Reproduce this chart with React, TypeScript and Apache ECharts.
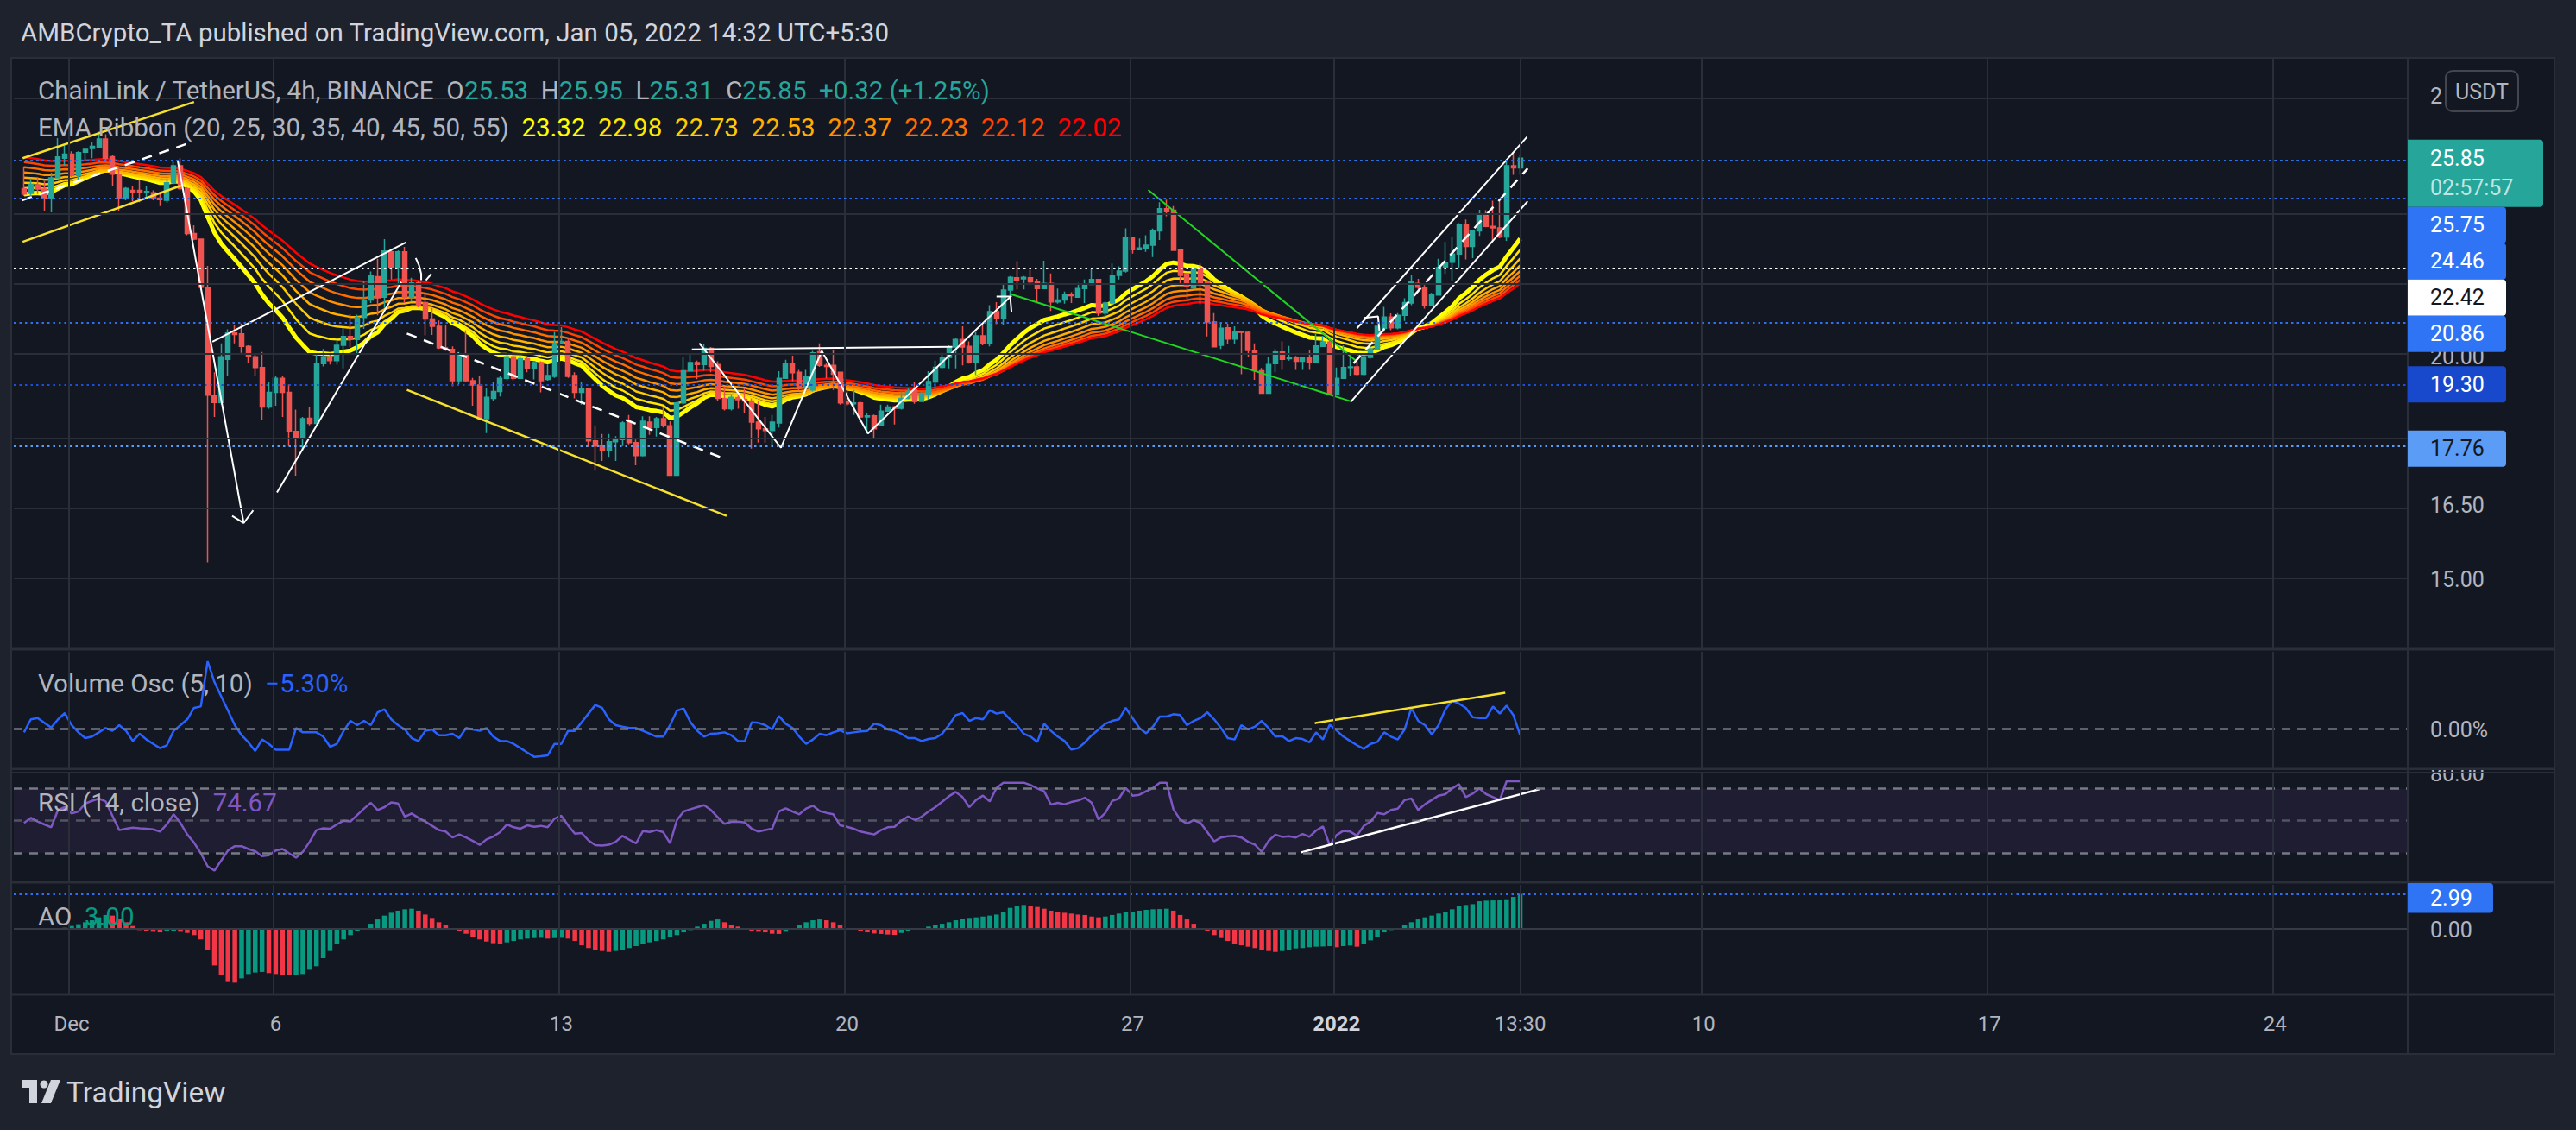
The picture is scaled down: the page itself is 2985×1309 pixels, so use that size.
import React, { useEffect, useRef } from 'react';
import * as echarts from 'echarts';

// ---------------- DATA ----------------
const OPEN = [
  24.85,24.70,24.97,24.84,24.53,25.20,25.85,25.99,25.28,26.05,26.18,26.20,26.50,25.90,25.32,24.53,24.80,24.80,24.72,24.72,24.55,24.48,25.04,25.60,24.85,23.45,23.28,21.88,19.03,18.85,
  19.93,20.62,20.60,20.27,20.00,19.72,18.74,19.10,19.45,19.10,18.16,17.99,18.47,18.35,19.82,19.97,19.90,20.30,20.53,20.45,21.04,21.52,22.18,21.60,22.90,22.44,22.90,21.60,22.00,21.45,
  21.00,20.80,20.23,20.19,19.39,20.06,19.39,19.28,18.46,18.95,19.12,19.45,20.00,19.45,19.95,19.69,19.85,19.42,19.50,20.35,20.40,19.52,19.10,19.20,17.94,17.82,17.72,17.92,17.97,18.38,
  17.90,17.60,18.38,18.25,18.46,18.29,17.16,18.84,19.64,19.85,19.80,20.22,19.80,18.95,18.70,18.97,18.93,18.89,18.38,18.22,18.18,18.36,19.45,19.82,19.60,19.25,19.16,20.13,19.78,19.78,
  19.60,18.88,18.82,18.84,18.50,18.53,18.30,18.64,18.74,18.71,18.95,19.16,18.88,19.05,19.36,19.73,19.98,20.25,20.45,20.27,19.85,20.55,20.34,21.20,21.03,21.80,22.15,22.12,22.15,22.03,
  21.84,21.99,21.47,21.52,21.68,21.60,21.84,21.96,22.10,21.16,21.44,22.22,22.34,23.32,22.97,23.02,23.10,23.53,24.22,24.17,22.97,22.26,21.86,22.42,22.03,20.92,20.30,20.76,20.46,20.66,
  20.64,20.16,19.64,19.08,19.82,20.12,19.95,19.98,19.88,19.97,19.85,20.27,20.38,19.04,19.45,19.72,19.74,19.55,19.98,20.20,20.75,21.05,20.76,21.10,21.44,21.99,21.88,21.38,21.66,22.44,
  22.60,22.84,23.72,23.06,23.53,24.04,23.67,23.62,23.35,25.60,25.53
];
const HIGH = [
  25.58,25.18,25.22,25.10,25.37,26.53,26.27,26.08,26.08,26.20,26.40,26.75,26.66,25.95,25.56,24.90,24.95,25.12,24.95,24.80,24.75,25.18,25.75,25.85,24.90,23.70,23.30,22.49,19.60,20.35,
  20.72,20.84,20.88,20.30,20.07,20.12,19.35,19.50,19.50,19.30,18.68,18.50,18.75,20.05,20.20,20.10,20.42,20.75,21.13,21.12,22.05,22.33,22.70,23.28,22.95,22.95,23.05,22.15,22.06,21.68,
  21.30,20.96,20.85,20.27,20.12,20.70,19.46,19.50,19.20,19.35,19.52,20.05,20.15,20.10,20.00,19.88,19.88,19.80,20.65,20.78,20.50,19.60,19.35,19.20,18.30,18.10,18.10,18.05,18.40,18.55,
  17.97,18.52,18.52,18.50,18.74,18.40,18.90,19.98,20.08,19.90,20.32,20.25,19.88,19.25,19.05,19.10,19.20,18.95,18.88,18.50,18.55,19.63,19.92,20.03,19.66,19.66,20.15,20.35,19.85,20.18,
  19.62,19.16,19.16,18.90,18.60,18.56,18.80,18.80,18.77,19.12,19.20,19.37,19.12,19.63,19.90,20.10,20.30,20.50,20.80,20.40,20.65,20.85,21.38,21.46,21.98,22.20,22.63,22.20,22.38,22.12,
  22.64,22.27,21.84,21.76,21.74,22.00,22.10,22.40,22.12,21.48,22.56,22.48,23.61,23.34,23.30,23.40,23.60,24.42,24.50,24.30,23.00,22.30,22.45,22.56,22.05,21.16,20.90,20.87,20.80,20.67,
  20.67,20.35,19.71,19.98,20.20,20.40,20.28,20.02,20.00,20.18,20.60,20.55,20.45,19.72,20.30,19.98,19.88,20.06,20.35,20.82,21.33,21.15,21.16,21.57,22.24,22.12,21.94,21.72,22.70,23.20,
  23.35,23.77,23.88,23.56,24.18,24.17,24.47,24.47,25.77,26.05,25.95
];
const LOW = [
  24.62,24.62,24.68,24.15,24.10,25.18,25.60,25.23,25.10,25.75,25.85,26.20,25.75,24.95,24.15,24.48,24.45,24.42,24.55,24.48,24.30,24.41,24.99,24.80,23.40,23.25,21.85,15.33,18.50,18.80,
  19.50,20.35,20.10,19.83,19.50,18.43,18.70,18.77,18.50,17.82,17.15,17.70,18.30,18.33,19.75,19.80,19.80,19.70,20.25,20.08,20.73,21.44,21.10,21.30,22.10,21.88,21.44,21.48,21.32,20.56,
  20.57,20.20,20.15,19.25,19.30,19.35,18.77,18.46,18.12,18.90,19.00,19.40,19.40,19.45,19.60,19.42,19.10,19.39,19.46,20.32,19.46,18.95,18.80,17.80,17.26,17.48,17.57,17.48,17.82,17.86,
  17.38,17.58,18.08,18.04,18.25,17.16,17.16,18.80,19.62,19.43,19.64,19.60,18.90,18.66,18.66,18.70,18.60,17.76,17.90,17.90,17.82,18.25,19.45,19.38,19.15,19.15,19.12,19.74,19.45,19.16,
  18.80,18.77,18.55,18.38,18.11,18.00,18.30,18.62,18.32,18.68,18.93,18.82,18.86,18.92,19.16,19.70,19.70,19.70,19.78,19.82,19.53,20.30,20.27,20.86,20.85,21.64,21.82,21.82,21.94,21.44,
  21.84,21.22,21.42,21.42,21.44,21.60,21.44,21.94,21.08,21.07,21.36,22.10,22.30,22.85,22.96,22.90,22.75,23.26,23.98,22.93,21.96,21.55,21.84,21.40,20.53,20.24,20.20,20.32,20.34,19.55,
  19.98,19.41,19.06,19.06,19.60,19.66,19.90,19.66,19.66,19.66,19.84,20.27,19.03,19.03,19.45,19.50,19.50,19.52,19.95,20.18,20.65,20.70,20.72,20.95,21.38,21.82,21.28,21.34,21.64,22.26,
  22.07,22.42,22.68,22.72,23.38,23.64,23.22,23.31,23.23,25.30,25.31
];
const CLOSE = [
  24.68,24.99,24.84,24.53,25.20,25.89,25.99,25.28,26.04,26.15,26.25,26.50,25.85,25.32,24.53,24.86,24.75,24.72,24.76,24.53,24.50,25.04,25.60,24.85,23.45,23.28,21.88,19.03,18.85,20.00,
  20.62,20.58,20.27,20.00,19.72,18.74,19.10,19.45,19.10,18.16,17.99,18.46,18.35,19.82,20.00,19.90,20.30,20.53,20.45,21.04,21.52,22.20,21.58,22.93,22.44,22.90,21.60,22.00,21.36,21.00,
  20.80,20.23,20.18,19.39,20.08,19.39,19.28,18.46,18.98,19.12,19.45,20.00,19.45,19.95,19.69,19.85,19.39,19.52,20.35,20.40,19.50,19.10,19.20,17.94,17.82,17.72,17.92,17.97,18.36,17.90,
  17.60,18.40,18.25,18.46,18.29,17.16,18.84,19.64,19.85,19.80,20.22,19.75,18.95,18.70,18.98,18.92,18.89,18.38,18.22,18.18,18.38,19.45,19.82,19.59,19.23,19.50,20.10,19.78,19.75,19.55,
  18.84,18.82,18.84,18.50,18.53,18.22,18.64,18.74,18.71,18.95,19.12,18.88,19.06,19.37,19.73,19.98,20.25,20.45,20.25,19.85,20.55,20.34,21.20,21.03,21.80,22.16,22.08,22.16,22.03,21.84,
  21.99,21.47,21.52,21.68,21.64,21.84,21.96,22.10,21.16,21.44,22.22,22.34,23.32,22.97,23.02,23.10,23.54,24.22,24.12,22.95,22.22,21.90,22.42,21.96,20.92,20.26,20.75,20.46,20.66,20.64,
  20.16,19.64,19.08,19.80,20.12,19.93,19.98,19.88,19.97,19.85,20.28,20.39,19.04,19.45,19.72,19.74,19.55,20.00,20.20,20.80,21.05,20.76,21.10,21.45,22.03,21.88,21.38,21.66,22.44,22.60,
  22.84,23.72,23.06,23.53,24.04,23.67,23.62,23.35,25.60,25.53,25.85
];
const VOL_OSC = [
  -3.0,7.4,8.5,4.6,0.9,7.4,12.4,2.8,-3.0,-7.6,-6.4,-3.0,0.5,-1.8,2.8,-1.8,-9.9,-4.1,-8.7,-12.2,-15.6,-13.3,-1.8,2.8,7.4,16.6,17.7,53.8,37.2,25.7,
  14.3,2.8,-5.3,-11.0,-17.9,-8.7,-12.2,-16.8,-16.8,-16.8,0.5,-3.0,-3.0,-3.0,-6.4,-14.5,-12.2,-1.8,6.2,2.8,6.2,2.8,13.1,15.4,7.4,2.8,-0.7,-7.6,-9.9,-1.8,
  -0.7,-5.3,-5.3,-4.1,-7.6,0.5,-0.7,-1.8,0.5,-6.4,-9.9,-9.9,-12.2,-15.6,-19.1,-22.5,-22.1,-21.4,-12.2,-12.2,-1.8,-1.8,5.1,12.0,18.9,16.6,7.4,2.8,1.6,0.5,
  0.5,-1.8,-4.1,-6.4,-6.4,2.8,14.3,16.1,5.1,-1.8,-6.4,-4.1,-3.7,-3.0,-5.3,-9.9,-9.9,5.1,4.6,2.8,-0.7,10.1,3.9,0.5,-6.4,-12.2,-8.7,-4.1,-5.3,-3.0,
  -1.4,-3.7,-3.0,-2.3,-1.8,3.9,2.8,-0.7,-1.8,-4.1,-7.6,-7.6,-9.9,-8.3,-7.6,-4.1,2.8,10.8,12.4,6.2,8.5,7.4,14.7,12.0,13.1,7.4,2.8,-4.1,-6.4,-10.6,
  3.9,-1.8,-6.4,-9.9,-16.8,-15.6,-11.0,-5.3,-0.7,3.9,6.2,7.4,16.6,8.5,0.5,-3.7,1.6,9.7,9.7,11.5,10.8,2.8,6.2,8.5,13.1,7.4,0.5,-7.6,-8.7,2.8,
  -0.7,1.6,6.2,0.5,-6.4,-6.0,-9.9,-7.6,-8.3,-11.0,-3.0,-8.7,3.2,-1.4,-6.4,-9.9,-13.3,-16.1,-12.2,-10.6,-3.0,-6.4,-8.7,-0.7,16.6,6.2,2.8,-4.6,2.8,15.4,
  22.3,20.0,16.6,9.2,8.5,8.5,17.7,12.0,18.4,10.8,-5.3
];
const RSI = [
  48.6,51.8,49.5,47.7,45.9,56.7,58.5,54.5,55.8,60.8,62.4,63.9,62.1,53.1,44.1,45.0,45.7,45.3,45.0,44.6,43.2,47.7,54.0,48.6,41.4,36.3,29.6,21.5,18.8,25.1,
  31.4,34.1,34.1,32.3,30.9,27.8,28.4,31.4,32.3,29.6,26.9,30.5,36.8,44.1,45.3,45.0,47.7,50.0,49.6,53.6,57.6,61.2,56.7,58.5,61.5,60.8,52.5,54.5,51.8,49.5,
  46.8,44.2,43.2,39.5,41.4,39.5,37.4,34.9,38.3,40.1,42.8,47.7,45.9,45.0,47.1,46.2,46.8,45.9,51.3,53.1,47.1,41.9,42.3,37.7,34.7,34.5,35.0,36.8,40.5,38.1,
  35.9,43.5,43.0,44.1,42.8,35.9,50.4,55.8,57.2,58.5,59.7,56.7,52.2,48.0,49.3,49.5,48.9,45.0,43.2,44.2,45.0,55.8,57.7,55.8,54.0,57.6,59.4,56.1,54.9,54.0,
  47.1,46.2,45.0,43.2,42.3,41.4,44.1,45.9,46.2,50.0,52.7,50.4,52.5,55.8,58.5,61.9,65.3,68.0,64.8,58.5,63.0,65.7,62.1,70.5,73.8,73.8,73.8,73.8,72.3,70.2,
  68.4,60.1,61.2,60.3,61.7,62.6,64.4,61.2,50.7,54.9,62.4,63.9,70.5,65.7,66.2,68.4,70.5,73.8,73.8,57.2,50.7,48.2,50.4,48.6,42.8,37.0,39.5,40.3,40.5,39.5,
  36.8,35.0,30.5,37.4,41.2,39.9,40.3,39.5,41.7,39.9,43.9,46.4,34.5,41.0,43.7,43.2,40.6,46.8,49.5,54.9,54.0,56.7,57.6,63.0,63.9,56.7,60.3,63.0,65.7,66.6,
  70.2,72.9,64.8,66.9,70.2,66.6,64.8,63.0,74.7,74.7,74.67
];
const AO = [
  0.07,0.07,0.07,0.05,-0.05,0.00,0.10,0.25,0.40,0.57,0.74,0.99,1.19,1.14,0.89,0.57,0.25,-0.10,-0.17,-0.25,-0.30,-0.20,-0.15,-0.25,-0.35,-0.54,-0.91,-1.78,-3.14,-4.00,
  -4.49,-4.62,-4.25,-3.88,-3.75,-3.70,-3.80,-3.88,-3.95,-4.00,-3.95,-3.88,-3.51,-3.21,-2.52,-1.90,-1.28,-0.91,-0.54,-0.17,0.07,0.44,0.81,1.14,1.38,1.56,1.68,1.73,1.56,1.23,
  0.94,0.57,0.32,0.07,-0.17,-0.42,-0.67,-0.91,-1.09,-1.23,-1.28,-1.16,-1.04,-0.91,-0.84,-0.79,-0.77,-0.84,-0.79,-0.77,-0.84,-1.04,-1.41,-1.65,-1.78,-1.90,-1.98,-1.90,-1.78,-1.65,
  -1.48,-1.28,-1.16,-1.04,-0.91,-0.74,-0.54,-0.30,-0.10,0.20,0.44,0.69,0.81,0.57,0.32,0.20,-0.05,-0.17,-0.25,-0.30,-0.42,-0.44,-0.25,0.07,0.32,0.57,0.74,0.81,0.74,0.57,
  0.32,0.07,-0.05,-0.17,-0.30,-0.40,-0.44,-0.49,-0.52,-0.35,-0.17,-0.05,0.07,0.20,0.32,0.44,0.57,0.74,0.89,0.94,0.99,1.06,1.14,1.23,1.43,1.80,1.98,2.05,1.98,1.88,
  1.73,1.56,1.48,1.38,1.31,1.23,1.19,1.06,0.99,1.06,1.19,1.31,1.43,1.48,1.56,1.63,1.68,1.70,1.73,1.56,1.19,0.81,0.44,0.07,-0.17,-0.54,-0.79,-1.04,-1.28,-1.41,
  -1.53,-1.65,-1.78,-1.90,-1.98,-1.90,-1.78,-1.68,-1.65,-1.58,-1.53,-1.51,-1.48,-1.58,-1.48,-1.43,-1.53,-1.28,-0.99,-0.67,-0.30,-0.10,0.00,0.32,0.57,0.81,0.99,1.14,1.31,1.43,
  1.68,1.93,2.05,2.12,2.37,2.42,2.44,2.47,2.54,2.74,2.99
];

const EMA_LENGTHS = [20, 25, 30, 35, 40, 45, 50, 55];
const EMA_AT_FIRST_BAR = [24.67, 24.87, 25.04, 25.21, 25.38, 25.55, 25.72, 25.89];
const EMA_LEGEND = ['23.32', '22.98', '22.73', '22.53', '22.37', '22.23', '22.12', '22.02'];
const EMA_COLORS = ['#ffff00', '#ffe600', '#ffcc00', '#ffb000', '#ff9100', '#ff6d00', '#ff4400', '#ff0000'];

const HEADER = 'AMBCrypto_TA published on TradingView.com, Jan 05, 2022 14:32 UTC+5:30';
const SYMBOL = 'ChainLink / TetherUS, 4h, BINANCE';
const EMA_TITLE = 'EMA Ribbon (20, 25, 30, 35, 40, 45, 50, 55)';
const VOL_TITLE = 'Volume Osc (5, 10)';
const RSI_TITLE = 'RSI (14, close)';
const AO_TITLE = 'AO';
const AO_LEGEND = '3.00';
const COUNTDOWN = '02:57:57';
const TOP_AXIS_LABEL = '2'; // the only part of the top price label not hidden by the currency button

const PRICE_GRID = [15, 16.5, 18, 20, 22, 24, 28];
const PRICE_AXIS_LABELS = [15, 16.5, 20];
const PRICE_RANGE = [13.705, 29.43];
const VOL_RANGE = [-32.4, 61.4];
const RSI_RANGE = [11.5, 80.1];
const AO_RANGE = [-5.63, 3.78];
const RSI_LEVELS = [70, 50, 30];

const PRICE_LINES = [
  { price: 25.85, sub: COUNTDOWN, bg: '#26a69a', fg: '#ffffff', line: '#26a69a' },
  { price: 25.75, bg: '#2f74f5', fg: '#ffffff', line: '#2f6ff0' },
  { price: 24.46, bg: '#2f74f5', fg: '#ffffff', line: '#2f6ff0' },
  { price: 22.42, bg: '#ffffff', fg: '#131722', line: '#ffffff' },
  { price: 20.86, bg: '#2f74f5', fg: '#ffffff', line: '#2f6ff0' },
  { price: 19.30, bg: '#1848cc', fg: '#ffffff', line: '#1f4fd6' },
  { price: 17.76, bg: '#5b9cf6', fg: '#131722', line: '#5b9cf6' },
];
const AO_LINE = 2.99;

const TIME_TICKS = [
  { t: '2021-12-01T00:00', label: 'Dec' },
  { t: '2021-12-06T00:00', label: '6' },
  { t: '2021-12-13T00:00', label: '13' },
  { t: '2021-12-20T00:00', label: '20' },
  { t: '2021-12-27T00:00', label: '27' },
  { t: '2022-01-01T00:00', label: '2022', bold: true },
  { t: '2022-01-05T13:30', label: '13:30' },
  { t: '2022-01-10T00:00', label: '10' },
  { t: '2022-01-17T00:00', label: '17' },
  { t: '2022-01-24T00:00', label: '24' },
];
const LAST_BAR_TIME = '2022-01-05T13:30';

// drawings: [bar index, value]
const DRAWINGS = [
  { pts: [[-0.2, 25.85], [25.0, 27.8]], color: '#f5e12e', w: 2.5 },
  { pts: [[-0.2, 23.2], [23.1, 24.95]], color: '#f5e12e', w: 2.5 },
  { pts: [[-0.3, 24.48], [24.4, 26.37]], color: '#ffffff', w: 2.5, dash: true },
  { pts: [[22.6, 25.77], [32.3, 16.13]], color: '#ffffff', w: 2 },
  { pts: [[30.6, 16.28], [32.3, 16.13], [33.7, 16.40]], color: '#ffffff', w: 2 },
  { pts: [[27.7, 20.39], [56.2, 23.19]], color: '#ffffff', w: 2 },
  { pts: [[37.2, 16.78], [55.5, 22.03]], color: '#ffffff', w: 2 },
  { pts: [[57.6, 22.72], [58.1, 22.50], [58.4, 22.26], [58.4, 22.08]], color: '#ffffff', w: 2 },
  { pts: [[59.1, 22.08], [59.9, 22.26]], color: '#ffffff', w: 2 },
  { pts: [[56.3, 20.61], [103.3, 17.51]], color: '#ffffff', w: 2.5, dash: true },
  { pts: [[56.3, 19.16], [103.3, 16.28]], color: '#f5e12e', w: 2.5 },
  { pts: [[98.2, 20.19], [136.5, 20.26]], color: '#ffffff', w: 2 },
  { pts: [[99.3, 20.35], [111.3, 17.78], [117.3, 20.15], [124.1, 18.11], [145.2, 21.64]], color: '#ffffff', w: 2 },
  { pts: [[143.0, 21.62], [145.0, 21.62], [145.2, 21.2]], color: '#ffffff', w: 2 },
  { pts: [[165.3, 24.81], [195.9, 19.89]], color: '#22d422', w: 2 },
  { pts: [[145.2, 21.68], [195.1, 18.88]], color: '#22d422', w: 2 },
  { pts: [[195.1, 18.87], [221.1, 24.45]], color: '#ffffff', w: 2 },
  { pts: [[196.0, 20.75], [221.0, 26.57]], color: '#ffffff', w: 2 },
  { pts: [[195.5, 19.83], [221.1, 25.51]], color: '#ffffff', w: 2.5, dash: true },
  { pts: [[197.0, 21.03], [199.1, 21.07], [199.3, 20.68]], color: '#ffffff', w: 2 },
];
const VOL_DRAWING = [[189.8, 4.4], [217.8, 28.7]];
const RSI_DRAWING = [[187.8, 30.2], [222.9, 69.8]];

// ---------------- LAYOUT ----------------
const FONT = 'Roboto';
const LEGEND_SIZE = 29.5;
const SLOTS = 352;
const GRID_LEFT = 16;
const GRID_W = 2774;
const PANES = [
  { top: 67, height: 685 },
  { top: 755, height: 136 },
  { top: 895, height: 127 },
  { top: 1025, height: 127 },
];
const UP = '#26a69a';
const DOWN = '#ef5350';
const AO_UP = '#089981';
const AO_DOWN = '#f23645';
const GRID_COLOR = '#2a2e39';

const ln = Math.log;

function computeEma(len: number, seed: number) {
  const a = 2 / (len + 1);
  const out = [seed];
  for (let i = 1; i < CLOSE.length; i++) out.push(a * CLOSE[i] + (1 - a) * out[i - 1]);
  return out;
}

function buildOption() {
  const N = CLOSE.length;
  const cats = Array.from({ length: SLOTS }, (_, k) => String(k));
  const lastMs = Date.parse(LAST_BAR_TIME + ':00Z');
  const tickSlots = TIME_TICKS.map((t) => N - (lastMs - Date.parse(t.t + ':00Z')) / (4 * 3600e3));
  const labelMap = new Map<number, any>();
  TIME_TICKS.forEach((t, k) => labelMap.set(Math.round(tickSlots[k]), t));

  const vgrid = tickSlots.map((s) => ({ xAxis: s, lineStyle: { color: GRID_COLOR, width: 2, type: 'solid' } }));

  const xAxis: any[] = [];
  const yAxis: any[] = [];
  PANES.forEach((_, g) => {
    xAxis.push({
      type: 'category', gridIndex: g, data: cats, boundaryGap: true,
      axisLine: { show: false }, axisTick: { show: false }, splitLine: { show: false },
      axisLabel: g === 3 ? {
        show: true,
        interval: (idx: number) => labelMap.has(idx),
        formatter: (_v: string, idx: number) => {
          const t = labelMap.get(idx);
          if (!t) return '';
          return t.bold ? '{b|' + t.label + '}' : t.label;
        },
        color: '#b2b5be', fontSize: 24, fontFamily: FONT, margin: 22,
        rich: { b: { fontWeight: 'bold', fontSize: 24, color: '#d1d4dc', fontFamily: FONT } },
      } : { show: false },
    });
    xAxis.push({ type: 'value', gridIndex: g, min: -0.5, max: SLOTS - 0.5, show: false });
  });
  yAxis.push({ type: 'value', gridIndex: 0, min: ln(PRICE_RANGE[0]), max: ln(PRICE_RANGE[1]), show: false });
  yAxis.push({ type: 'value', gridIndex: 1, min: VOL_RANGE[0], max: VOL_RANGE[1], show: false });
  yAxis.push({ type: 'value', gridIndex: 2, min: RSI_RANGE[0], max: RSI_RANGE[1], show: false });
  yAxis.push({ type: 'value', gridIndex: 3, min: AO_RANGE[0], max: AO_RANGE[1], show: false });

  const series: any[] = [];
  const ml = (data: any[]) => ({ silent: true, symbol: ['none', 'none'], label: { show: false }, data });

  series.push({
    type: 'line', xAxisIndex: 1, yAxisIndex: 0, data: [], z: 1, silent: true,
    markLine: ml([
      ...PRICE_GRID.map((p) => ({ yAxis: ln(p), lineStyle: { color: GRID_COLOR, width: 2, type: 'solid' } })),
      ...vgrid,
      ...PRICE_LINES.map((l) => ({ yAxis: ln(l.price), lineStyle: { color: l.line, width: 2, type: [2.5, 4] } })),
    ]),
  });

  EMA_LENGTHS.forEach((len, k) => {
    const vals = computeEma(len, EMA_AT_FIRST_BAR[k]);
    series.push({
      type: 'line', xAxisIndex: 0, yAxisIndex: 0, showSymbol: false, silent: true, z: 2,
      data: vals.map((v, i) => [i + 1, ln(v)]),
      lineStyle: { color: EMA_COLORS[k], width: k === 0 ? 5 : 2.5 },
    });
  });

  series.push({
    type: 'candlestick', xAxisIndex: 0, yAxisIndex: 0, z: 3, silent: true, barWidth: 5.5,
    encode: { x: 0, y: [1, 2, 3, 4] },
    data: OPEN.map((o, i) => [i + 1, ln(o), ln(CLOSE[i]), ln(LOW[i]), ln(HIGH[i])]),
    itemStyle: { color: UP, color0: DOWN, borderColor: UP, borderColor0: DOWN, borderWidth: 1.5 },
  });

  DRAWINGS.forEach((d) => {
    series.push({
      type: 'line', xAxisIndex: 1, yAxisIndex: 0, showSymbol: false, silent: true, z: 4,
      data: d.pts.map(([x, p]) => [x + 1, ln(p)]),
      lineStyle: { color: d.color, width: d.w, type: d.dash ? [12, 9] : 'solid' },
    });
  });

  series.push({
    type: 'line', xAxisIndex: 3, yAxisIndex: 1, data: [], z: 1, silent: true,
    markLine: ml([{ yAxis: 0, lineStyle: { color: '#787b86', width: 2.5, type: [10, 8] } }, ...vgrid]),
  });
  series.push({
    type: 'line', xAxisIndex: 2, yAxisIndex: 1, showSymbol: false, silent: true, z: 3,
    data: VOL_OSC.map((v, i) => [i + 1, v]), lineStyle: { color: '#2962ff', width: 2.5 },
  });
  series.push({
    type: 'line', xAxisIndex: 3, yAxisIndex: 1, showSymbol: false, silent: true, z: 4,
    data: VOL_DRAWING.map(([x, v]) => [x + 1, v]), lineStyle: { color: '#f5e12e', width: 2.5 },
  });

  series.push({
    type: 'line', xAxisIndex: 5, yAxisIndex: 2, data: [], z: 1, silent: true,
    markArea: { silent: true, itemStyle: { color: 'rgba(126,87,194,0.10)' }, data: [[{ yAxis: RSI_LEVELS[0] }, { yAxis: RSI_LEVELS[2] }]] },
    markLine: ml([
      ...RSI_LEVELS.map((v, k) => ({ yAxis: v, lineStyle: { color: k === 1 ? 'rgba(120,123,134,0.6)' : '#787b86', width: 2.5, type: [10, 8] } })),
      ...vgrid,
    ]),
  });
  series.push({
    type: 'line', xAxisIndex: 4, yAxisIndex: 2, showSymbol: false, silent: true, z: 3,
    data: RSI.map((v, i) => [i + 1, v]), lineStyle: { color: '#7e57c2', width: 2.5 },
  });
  series.push({
    type: 'line', xAxisIndex: 5, yAxisIndex: 2, showSymbol: false, silent: true, z: 4,
    data: RSI_DRAWING.map(([x, v]) => [x + 1, v]), lineStyle: { color: '#ffffff', width: 2.5 },
  });

  series.push({
    type: 'line', xAxisIndex: 7, yAxisIndex: 3, data: [], z: 1, silent: true,
    markLine: ml([
      { yAxis: 0, lineStyle: { color: '#363a45', width: 2, type: 'solid' } },
      { yAxis: AO_LINE, lineStyle: { color: '#2f6ff0', width: 2, type: [2.5, 4] } },
      ...vgrid,
    ]),
  });
  series.push({
    type: 'bar', xAxisIndex: 6, yAxisIndex: 3, barWidth: 5.5, silent: true, z: 3,
    data: AO.map((v, i) => ({ value: [i + 1, v], itemStyle: { color: i === 0 || v >= AO[i - 1] ? AO_UP : AO_DOWN } })),
  });

  // ---------- graphic overlay ----------
  const g: any[] = [];
  const txt = (x: number, y: number, text: string, fill: string, size: number, extra: any = {}, z = 100) => ({
    type: 'text', x, y, z, silent: true,
    style: { text, fill, fontSize: size, fontFamily: FONT, verticalAlign: 'middle', ...extra },
  });
  g.push(txt(24, 38, HEADER, '#d1d4dc', 29.5));

  const last = N - 1;
  const chg = CLOSE[last] - CLOSE[last - 1];
  const pct = (chg / CLOSE[last - 1]) * 100;
  const sgn = (v: number) => (v >= 0 ? '+' : '\u2212') + Math.abs(v).toFixed(2);
  const legendRich = {
    a: { fill: '#b2b5be', fontSize: LEGEND_SIZE, fontFamily: FONT },
    v: { fill: UP, fontSize: LEGEND_SIZE, fontFamily: FONT },
  };
  g.push({
    type: 'text', x: 44, y: 105, z: 100, silent: true,
    style: {
      verticalAlign: 'middle', rich: legendRich,
      text: '{a|' + SYMBOL + '  O}{v|' + OPEN[last].toFixed(2) + '}{a|  H}{v|' + HIGH[last].toFixed(2) +
        '}{a|  L}{v|' + LOW[last].toFixed(2) + '}{a|  C}{v|' + CLOSE[last].toFixed(2) + '}{a|  }{v|' +
        sgn(chg) + ' (' + sgn(pct) + '%)}',
    },
  });
  const emaRich: any = { a: { fill: '#b2b5be', fontSize: LEGEND_SIZE, fontFamily: FONT } };
  EMA_COLORS.forEach((c, k) => { emaRich['e' + k] = { fill: c, fontSize: LEGEND_SIZE, fontFamily: FONT }; });
  g.push({
    type: 'text', x: 44, y: 148, z: 100, silent: true,
    style: {
      verticalAlign: 'middle', rich: emaRich,
      text: '{a|' + EMA_TITLE + '}' + EMA_LEGEND.map((v, k) => '{a|  }{e' + k + '|' + v + '}').join(''),
    },
  });
  const paneLegend = (y: number, title: string, value: string, color: string) => ({
    type: 'text', x: 44, y, z: 100, silent: true,
    style: {
      verticalAlign: 'middle',
      rich: { a: { fill: '#b2b5be', fontSize: LEGEND_SIZE, fontFamily: FONT }, v: { fill: color, fontSize: LEGEND_SIZE, fontFamily: FONT } },
      text: '{a|' + title + '  }{v|' + value + '}',
    },
  });
  const volLast = VOL_OSC[VOL_OSC.length - 1];
  g.push(paneLegend(792, VOL_TITLE, (volLast < 0 ? '\u2212' : '') + Math.abs(volLast).toFixed(2) + '%', '#2962ff'));
  g.push(paneLegend(930, RSI_TITLE, RSI[RSI.length - 1].toFixed(2), '#7e57c2'));
  g.push(paneLegend(1062, AO_TITLE, AO_LEGEND, AO_UP));

  // price axis labels
  const pTop = PANES[0].top, pH = PANES[0].height;
  const yOfPrice = (p: number) => pTop + (ln(PRICE_RANGE[1]) - ln(p)) / (ln(PRICE_RANGE[1]) - ln(PRICE_RANGE[0])) * pH;
  PRICE_AXIS_LABELS.forEach((p) => g.push(txt(2816, yOfPrice(p), p.toFixed(2), '#b2b5be', 25, {}, 55)));
  g.push(txt(2816, yOfPrice(28), TOP_AXIS_LABEL, '#b2b5be', 25, {}, 55));
  g.push(txt(2816, 845, '0.00%', '#b2b5be', 25, {}, 55));
  g.push(txt(2816, 896, '80.00', '#b2b5be', 25, {}, 55));
  g.push(txt(2816, 1077, '0.00', '#b2b5be', 25, {}, 55));
  g.push({ type: 'rect', z: 56, silent: true, shape: { x: 2791, y: 866, width: 168, height: 25 }, style: { fill: '#131722' } });

  // price tags (stacked like the platform does)
  let prevBottom = -Infinity;
  PRICE_LINES.forEach((l) => {
    const h = l.sub ? 78 : 42;
    const anchor = l.sub ? 21.5 : 21;
    const top = Math.max(yOfPrice(l.price) - anchor, prevBottom);
    prevBottom = top + h;
    const w = l.sub ? 157 : 114;
    g.push({ type: 'rect', z: 60, silent: true, shape: { x: 2790, y: top, width: w, height: h, r: [0, 4, 4, 0] }, style: { fill: l.bg } });
    g.push(txt(2816, top + anchor, l.price.toFixed(2), l.fg, 25, {}, 61));
    if (l.sub) g.push(txt(2816, top + 56, l.sub, 'rgba(255,255,255,0.72)', 25, {}, 61));
  });
  g.push({ type: 'rect', z: 60, silent: true, shape: { x: 2790, y: 1023, width: 99, height: 34.5, r: [0, 4, 4, 0] }, style: { fill: '#2f74f5' } });
  g.push(txt(2816, 1040, AO_LINE.toFixed(2), '#ffffff', 25, {}, 61));

  // USDT button
  g.push({ type: 'rect', z: 70, silent: true, shape: { x: 2834, y: 82, width: 84, height: 47, r: 8 }, style: { fill: '#131722', stroke: '#434651', lineWidth: 2 } });
  g.push(txt(2876, 106, 'USDT', '#b2b5be', 25, { align: 'center' }, 71));

  // pane separators and borders
  const sep = (y: number, h: number) => ({ type: 'rect', z: 57, silent: true, shape: { x: 13, y, width: 2947, height: h }, style: { fill: GRID_COLOR } });
  g.push(sep(750.5, 3), sep(889.5, 2.5), sep(894, 1.5), sep(1020.5, 3), sep(1150.5, 3));
  g.push({ type: 'rect', z: 57, silent: true, shape: { x: 2789, y: 67, width: 2, height: 1154 }, style: { fill: GRID_COLOR } });
  g.push({ type: 'rect', z: 57, silent: true, shape: { x: 13, y: 67, width: 2947, height: 1154 }, style: { fill: 'none', stroke: GRID_COLOR, lineWidth: 2 } });

  // TradingView logo
  const logo = '#d1d4dc';
  g.push({ type: 'rect', z: 100, silent: true, shape: { x: 25, y: 1251, width: 18, height: 9 }, style: { fill: logo } });
  g.push({ type: 'rect', z: 100, silent: true, shape: { x: 34, y: 1251, width: 9, height: 27 }, style: { fill: logo } });
  g.push({ type: 'circle', z: 100, silent: true, shape: { cx: 51, cy: 1256, r: 4.5 }, style: { fill: logo } });
  g.push({ type: 'polygon', z: 100, silent: true, shape: { points: [[59, 1251], [70, 1251], [59, 1278], [48, 1278]] }, style: { fill: logo } });
  g.push(txt(77, 1265, 'TradingView', logo, 33.5));

  return {
    animation: false,
    backgroundColor: 'transparent',
    grid: PANES.map((p) => ({ left: GRID_LEFT, top: p.top, width: GRID_W, height: p.height, containLabel: false })),
    xAxis, yAxis, series,
    graphic: { elements: g },
  };
}

export default function App() {
  const ref = useRef<HTMLDivElement>(null);
  useEffect(() => {
    if (!ref.current) return;
    const chart = echarts.init(ref.current, null, { renderer: 'svg' });
    chart.setOption(buildOption() as any);
    return () => chart.dispose();
  }, []);
  return (
    <div style={{ position: 'absolute', left: 0, top: 0, width: 2985, height: 1309, background: '#1e222d', overflow: 'hidden' }}>
      <div style={{ position: 'absolute', left: 13, top: 67, width: 2947, height: 1154, background: '#131722' }} />
      <div ref={ref} style={{ position: 'absolute', left: 0, top: 0, width: 2985, height: 1309 }} />
    </div>
  );
}
